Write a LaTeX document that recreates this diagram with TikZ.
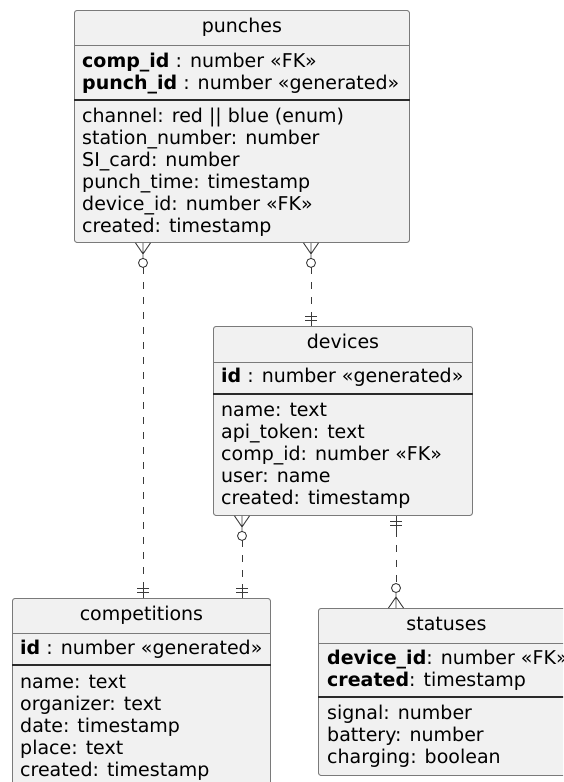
\documentclass[tikz,border=0pt]{standalone}
\usepackage{fontspec}
\setmainfont{DejaVu Sans}
\definecolor{boxfill}{HTML}{F1F1F1}
\definecolor{boxline}{HTML}{7A7A7A}
\definecolor{keyline}{HTML}{2A2A2A}
\definecolor{relline}{HTML}{3A3A3A}

\tikzset{
  entity/.style={draw=boxline, fill=boxfill, rounded corners=2.5pt, anchor=north west, inner sep=0, line width=0.9pt},
  etitle/.style={inner sep=0, text height=14pt, text depth=4pt, font=\fontsize{19}{22}\selectfont},
  row/.style={etitle, anchor=west},
  hline/.style={draw=boxline, line width=0.9pt},
  kline/.style={draw=keyline, line width=1.4pt},
  rel/.style={draw=relline, line width=0.9pt},
  reldash/.style={rel, dash pattern=on 7pt off 8pt},
  zeromany/.pic={\draw[rel] (-7.5,0) -- (0,11) -- (7.5,0) (0,0) -- (0,15.5) (0,20) circle (4.5);},
  onlyone/.pic={\draw[rel] (0,0) -- (0,14) (-6,6) -- (6,6) (-6,10) -- (6,10);}
}

\begin{document}
\begin{tikzpicture}[x=1pt, y=-1pt]
 \useasboundingbox (0,0) rectangle (563,782);
 \clip (0,0) rectangle (563,782);

 % punches
 \node[entity, minimum width=335pt, minimum height=232pt] (punches) at (74,10) {};
 \draw[hline] (punches.west |- 0,45) -- (punches.east |- 0,45);
 \draw[kline] (punches.west |- 0,100) -- (punches.east |- 0,100);
 \node[etitle] (punchesT) at (punches.north |- 0,27) {punches};
 \foreach \t [count=\i] in {{\textbf{comp\_id} : number «FK»}, {\textbf{punch\_id} : number «generated»}}
  \node[row] (punchesK\i) at (82, 40+22*\i) {\t};
 \foreach \t [count=\i] in {channel: red || blue (enum), station\_number: number, SI\_card: number, punch\_time: timestamp, device\_id: number «FK», created: timestamp}
  \node[row] (punchesA\i) at (82, 95+22*\i) {\t};

 % devices
 \node[entity, minimum width=259pt, minimum height=189pt] (devices) at (213,326) {};
 \draw[hline] (devices.west |- 0,362) -- (devices.east |- 0,362);
 \draw[kline] (devices.west |- 0,394) -- (devices.east |- 0,394);
 \node[etitle] (devicesT) at (devices.north |- 0,343) {devices};
 \node[row] (devicesK1) at (221,377) {\textbf{id} : number «generated»};
 \foreach \t [count=\i] in {name: text, api\_token: text, comp\_id: number «FK», user: name, created: timestamp}
  \node[row] (devicesA\i) at (221, 389+22*\i) {\t};

 % competitions
 \node[entity, minimum width=258pt, minimum height=200pt] (competitions) at (12,598) {};
 \draw[hline] (competitions.west |- 0,633) -- (competitions.east |- 0,633);
 \draw[kline] (competitions.west |- 0,665) -- (competitions.east |- 0,665);
 \node[etitle] (competitionsT) at (competitions.north |- 0,615) {competitions};
 \node[row] (competitionsK1) at (20,649) {\textbf{id} : number «generated»};
 \foreach \t [count=\i] in {name: text, organizer: text, date: timestamp, place: text, created: timestamp}
  \node[row] (competitionsA\i) at (20, 661+22*\i) {\t};

 % statuses
 \node[entity, minimum width=256pt, minimum height=167pt] (statuses) at (318,608) {};
 \draw[hline] (statuses.west |- 0,643) -- (statuses.east |- 0,643);
 \draw[kline] (statuses.west |- 0,697) -- (statuses.east |- 0,697);
 \node[etitle] (statusesT) at (statuses.north |- 0,625) {statuses};
 \foreach \t [count=\i] in {{\textbf{device\_id}: number «FK»}, {\textbf{created}: timestamp}}
  \node[row] (statusesK\i) at (327, 637+22*\i) {\t};
 \foreach \t [count=\i] in {signal: number, battery: number, charging: boolean}
  \node[row] (statusesA\i) at (327, 692+22*\i) {\t};

 % relations
 \coordinate (pc1) at ([xshift=69pt]punches.south west);
 \coordinate (pc2) at (pc1 |- competitions.north);
 \pic at (pc1) {zeromany};
 \pic[rotate=180] at (pc2) {onlyone};
 \draw[reldash] (pc1) ++(0,24.5) -- ([yshift=14pt]pc2);

 \coordinate (pd1) at ([xshift=237pt]punches.south west);
 \coordinate (pd2) at (pd1 |- devices.north);
 \pic at (pd1) {zeromany};
 \pic[rotate=180] at (pd2) {onlyone};
 \draw[reldash] (pd1) ++(0,24.5) -- ([yshift=14pt]pd2);

 \coordinate (dc1) at ([xshift=29pt]devices.south west);
 \coordinate (dc2) at (dc1 |- competitions.north);
 \pic at (dc1) {zeromany};
 \pic[rotate=180] at (dc2) {onlyone};
 \draw[reldash] (dc1) ++(0,24.5) -- ([yshift=14pt]dc2);

 \coordinate (ds1) at ([xshift=183pt]devices.south west);
 \coordinate (ds2) at (ds1 |- statuses.north);
 \pic at (ds1) {onlyone};
 \pic[rotate=180] at (ds2) {zeromany};
 \draw[reldash] (ds1) ++(0,14) -- ([yshift=24.5pt]ds2);
\end{tikzpicture}
\end{document}
